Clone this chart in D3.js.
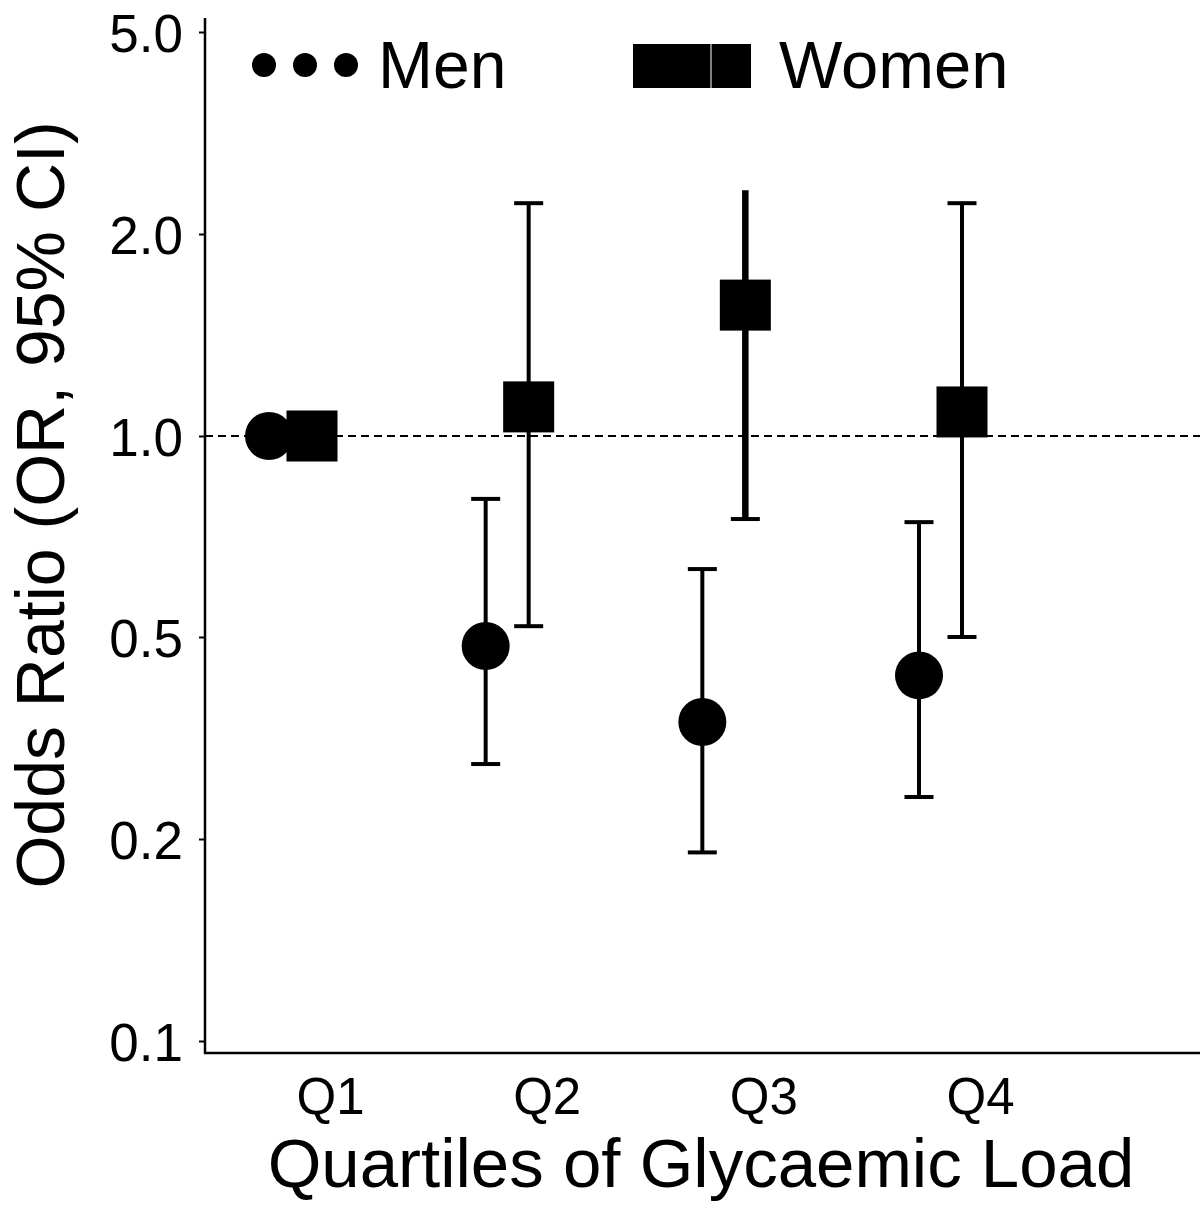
<!DOCTYPE html>
<html>
<head>
<meta charset="utf-8">
<script src="https://cdn.jsdelivr.net/npm/d3@7"></script>
<style>
  html, body { margin: 0; padding: 0; background: #fff; }
  text { font-family: "Liberation Sans", Arial, Helvetica, sans-serif; fill: #000; }
</style>
</head>
<body>
<svg id="chart" width="1200" height="1208"></svg>
<script>
// ---- data ----
const quartiles = ["Q1", "Q2", "Q3", "Q4"];
const menOR   = [1.0, 0.48, 0.34, 0.42];
const menLo   = [null, 0.281, 0.191, 0.242];
const menHi   = [null, 0.805, 0.632, 0.743];
const womenOR = [1.0, 1.105, 1.567, 1.086];
const womenLo = [null, 0.519, 0.751, 0.50];
const womenHi = [null, 2.30, 2.44, 2.30];
const yTicks = [0.1, 0.2, 0.5, 1.0, 2.0, 5.0];
const yTickLabels = ["0.1", "0.2", "0.5", "1.0", "2.0", "5.0"];
const seriesNames = ["Men", "Women"];
const xTitle = "Quartiles of Glycaemic Load";
const yTitle = "Odds Ratio (OR, 95% CI)";

// ---- layout ----
const svg = d3.select("#chart");
const plot = { left: 205, right: 1200, top: 18, bottom: 1053 };

// y axis: equally spaced labelled breaks (piecewise log scale)
const y = d3.scaleLog()
  .domain(yTicks)
  .range([1041, 839, 637, 436, 234, 32]);

const x = d3.scalePoint().domain(quartiles).range([330, 980]);
const dodge = { Men: -61, Women: -18 };

// reference line
svg.append("line")
  .attr("x1", plot.left).attr("x2", plot.right)
  .attr("y1", y(1)).attr("y2", y(1))
  .attr("stroke", "#000").attr("stroke-width", 2)
  .attr("stroke-dasharray", "8,5");

// axes lines
svg.append("line").attr("x1", plot.left).attr("x2", plot.left)
  .attr("y1", plot.top).attr("y2", plot.bottom + 1)
  .attr("stroke", "#000").attr("stroke-width", 2.5);
svg.append("line").attr("x1", plot.left - 1).attr("x2", plot.right)
  .attr("y1", plot.bottom).attr("y2", plot.bottom)
  .attr("stroke", "#000").attr("stroke-width", 2.5);

// y axis ticks and labels
const yAxis = d3.axisLeft(y)
  .tickValues(yTicks)
  .tickFormat((d, i) => yTickLabels[i])
  .tickSize(6)
  .tickPadding(16);
const gy = svg.append("g").attr("transform", `translate(${plot.left},0)`).call(yAxis);
gy.select(".domain").remove();
gy.selectAll(".tick line").attr("stroke", "#000").attr("stroke-width", 2);
gy.selectAll(".tick text")
  .attr("font-size", 53)
  .attr("font-family", "'Liberation Sans', Arial, sans-serif")
  .attr("fill", "#000")
  .attr("dy", "0.36em");

// x axis labels (no ticks)
const xAxis = d3.axisBottom(x).tickSize(0).tickPadding(0);
const gx = svg.append("g").attr("transform", `translate(0,${plot.bottom})`).call(xAxis);
gx.select(".domain").remove();
gx.selectAll(".tick text")
  .attr("font-size", 51)
  .attr("font-family", "'Liberation Sans', Arial, sans-serif")
  .attr("fill", "#000")
  .attr("y", 61).attr("dy", 0);

// axis titles
svg.append("text")
  .attr("x", 701).attr("y", 1187)
  .attr("text-anchor", "middle")
  .attr("font-size", 69)
  .text(xTitle);
svg.append("text")
  .attr("transform", "translate(64,505) rotate(-90)")
  .attr("text-anchor", "middle")
  .attr("font-size", 68)
  .text(yTitle);

// ---- error bars & points ----
const capW = 29;
function drawSeries(name, est, lo, hi) {
  const g = svg.append("g");
  quartiles.forEach((q, i) => {
    const cx = x(q) + dodge[name];
    if (lo[i] != null && hi[i] != null) {
      // Women Q3: whisker drawn heavier and without top cap in the original
      const heavy = (name === "Women" && q === "Q3");
      g.append("line")
        .attr("x1", cx).attr("x2", cx)
        .attr("y1", y(hi[i])).attr("y2", y(lo[i]))
        .attr("stroke", "#000").attr("stroke-width", heavy ? 6.5 : 4);
      if (!heavy) {
        g.append("line")
          .attr("x1", cx - capW / 2).attr("x2", cx + capW / 2)
          .attr("y1", y(hi[i])).attr("y2", y(hi[i]))
          .attr("stroke", "#000").attr("stroke-width", 4);
      }
      g.append("line")
        .attr("x1", cx - capW / 2).attr("x2", cx + capW / 2)
        .attr("y1", y(lo[i])).attr("y2", y(lo[i]))
        .attr("stroke", "#000").attr("stroke-width", 4);
    }
  });
  quartiles.forEach((q, i) => {
    const cx = x(q) + dodge[name];
    const cy = y(est[i]);
    if (name === "Men") {
      g.append("circle").attr("cx", cx).attr("cy", cy).attr("r", 24).attr("fill", "#000");
    } else {
      g.append("rect").attr("x", cx - 25.5).attr("y", cy - 25.5)
        .attr("width", 51).attr("height", 51).attr("fill", "#000");
    }
  });
}
drawSeries("Men", menOR, menLo, menHi);
drawSeries("Women", womenOR, womenLo, womenHi);

// ---- legend ----
const lg = svg.append("g");
[264, 305, 346].forEach(cx => {
  lg.append("circle").attr("cx", cx).attr("cy", 65).attr("r", 12).attr("fill", "#000");
});
lg.append("text").attr("x", 378).attr("y", 88).attr("font-size", 66).text(seriesNames[0]);
[[633, 673], [672, 711], [711, 751]].forEach(([a, b]) => {
  lg.append("rect").attr("x", a).attr("y", 44).attr("width", b - a).attr("height", 44).attr("fill", "#000");
});
lg.append("line").attr("x1", 711).attr("x2", 711).attr("y1", 44).attr("y2", 88)
  .attr("stroke", "#fff").attr("stroke-width", 1);
lg.append("text").attr("x", 779).attr("y", 88).attr("font-size", 67).text(seriesNames[1]);
</script>
</body>
</html>
